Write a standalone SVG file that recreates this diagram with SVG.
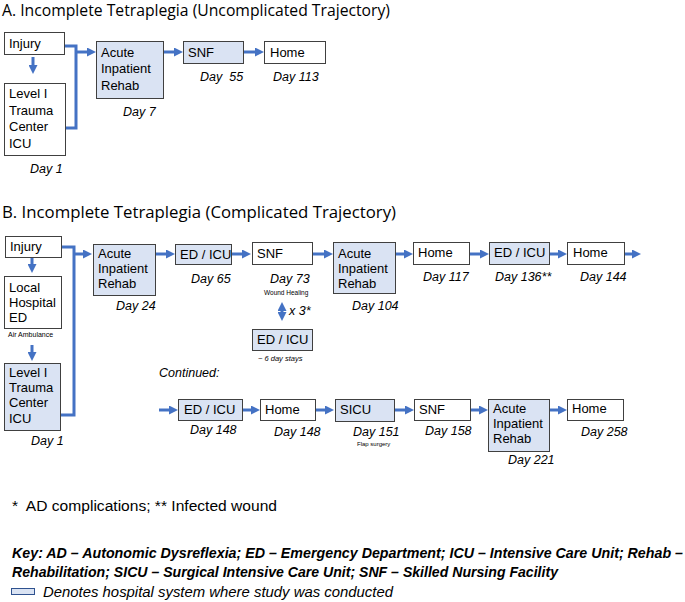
<svg xmlns="http://www.w3.org/2000/svg" width="685" height="602" viewBox="0 0 685 602">
<style>
text{font-family:"Liberation Sans",Arial,sans-serif;fill:#000}
.t{font-size:16px;font-family:"Open Sans","Liberation Sans",sans-serif}
.n{font-size:13px}
.d{font-size:12.5px;font-style:italic}
.s{font-size:7px}
.si{font-size:7.5px;font-style:italic}
.w{fill:#fff;stroke:#404040;stroke-width:1}
.b{fill:#dae3f3;stroke:#404040;stroke-width:1}
.c{fill:none;stroke:#4472c4;stroke-width:3}
.a{fill:none;stroke:#4472c4;stroke-width:3;marker-end:url(#ah)}
.aa{fill:none;stroke:#4472c4;stroke-width:3;marker-end:url(#ah);marker-start:url(#ah)}
.k{font-size:14px;font-weight:bold;font-style:italic}
</style>
<defs>
<marker id="ah" viewBox="0 0 9 9" refX="3" refY="4.5" markerWidth="9" markerHeight="9" markerUnits="userSpaceOnUse" orient="auto-start-reverse">
<path d="M0,0 L9,4.5 L0,9 z" fill="#4472c4"/>
</marker>
</defs>

<text class="t" x="2" y="16" textLength="388" lengthAdjust="spacingAndGlyphs">A. Incomplete Tetraplegia (Uncomplicated Trajectory)</text>
<text class="t" x="2" y="218" textLength="394" lengthAdjust="spacingAndGlyphs">B. Incomplete Tetraplegia (Complicated Trajectory)</text>

<g id="connectors">
<!-- A -->
<path class="a" d="M33,57 V68"/>
<path class="c" d="M65,46 H76 V128 H65"/>
<path class="a" d="M76,52 H90"/>
<path class="a" d="M163,52 H177"/>
<path class="a" d="M243,52 H258"/>
<!-- B -->
<path class="a" d="M32,258 V267"/>
<path class="a" d="M32,345 V355"/>
<path class="c" d="M62,247 H74 V415 H61"/>
<path class="a" d="M74,254 H86"/>
<path class="a" d="M155,254 H169"/>
<path class="a" d="M231,254 H245"/>
<path class="a" d="M312,254 H327"/>
<path class="a" d="M395,254 H407"/>
<path class="a" d="M469,254 H483"/>
<path class="a" d="M549,254 H561"/>
<path class="a" d="M624,254 H635"/>
<path class="aa" d="M282,308 V315"/>
<!-- continued -->
<path class="a" d="M159,410 H172"/>
<path class="a" d="M242,410 H254"/>
<path class="a" d="M315,410 H328"/>
<path class="a" d="M394,410 H408"/>
<path class="a" d="M470,410 H482"/>
<path class="a" d="M549,410 H561"/>
</g>

<!-- Section A nodes -->
<g id="a-injury"><rect class="w" x="4.5" y="32.5" width="60" height="22"/><text class="n" x="9" y="48">Injury</text></g>
<g id="a-trauma"><rect class="w" x="4.5" y="83.5" width="61" height="72"/>
<text class="n" x="9" y="98">Level I</text><text class="n" x="9" y="115">Trauma</text><text class="n" x="9" y="131">Center</text><text class="n" x="9" y="148">ICU</text></g>
<text class="d" x="30" y="173">Day 1</text>
<g id="a-rehab"><rect class="b" x="96.5" y="41.5" width="67" height="57"/>
<text class="n" x="101" y="57">Acute</text><text class="n" x="101" y="73">Inpatient</text><text class="n" x="101" y="90">Rehab</text></g>
<text class="d" x="123" y="116">Day 7</text>
<g id="a-snf"><rect class="b" x="183.5" y="41.5" width="60" height="22"/><text class="n" x="188" y="57">SNF</text></g>
<text class="d" x="200" y="81" xml:space="preserve">Day  55</text>
<g id="a-home"><rect class="w" x="264.5" y="41.5" width="61" height="22"/><text class="n" x="270" y="57">Home</text></g>
<text class="d" x="273" y="81">Day 113</text>

<!-- Section B nodes -->
<g id="b-injury"><rect class="w" x="5.5" y="236.5" width="56" height="21"/><text class="n" x="10" y="251">Injury</text></g>
<g id="b-local"><rect class="w" x="4.5" y="276.5" width="57" height="52"/>
<text class="n" x="9" y="292">Local</text><text class="n" x="9" y="307">Hospital</text><text class="n" x="9" y="322">ED</text></g>
<text class="s" x="8" y="337">Air Ambulance</text>
<g id="b-trauma"><rect class="b" x="4.5" y="363.5" width="56" height="67"/>
<text class="n" x="9" y="377">Level I</text><text class="n" x="9" y="392">Trauma</text><text class="n" x="9" y="407">Center</text><text class="n" x="9" y="423">ICU</text></g>
<text class="d" x="31" y="445">Day 1</text>
<g id="b-rehab1"><rect class="b" x="93.5" y="244.5" width="62" height="51"/>
<text class="n" x="98" y="258">Acute</text><text class="n" x="98" y="273">Inpatient</text><text class="n" x="98" y="288">Rehab</text></g>
<text class="d" x="116" y="310">Day 24</text>
<g id="b-edicu1"><rect class="b" x="175.5" y="244.5" width="56" height="20"/><text class="n" x="180" y="259">ED / ICU</text></g>
<text class="d" x="191" y="283">Day 65</text>
<g id="b-snf1"><rect class="w" x="252.5" y="242.5" width="60" height="22"/><text class="n" x="257" y="258">SNF</text></g>
<text class="d" x="270" y="283">Day 73</text>
<text class="s" x="264" y="295" style="font-size:6.5px">Wound Healing</text>
<text class="d" x="289" y="315">x 3*</text>
<g id="b-edicu-loop"><rect class="b" x="252.5" y="329.5" width="60" height="21"/><text class="n" x="257" y="344">ED / ICU</text></g>
<text class="si" x="258" y="361">~ 6 day stays</text>
<text class="d" x="159" y="377">Continued:</text>
<g id="b-rehab2"><rect class="b" x="333.5" y="242.5" width="62" height="51"/>
<text class="n" x="338" y="258">Acute</text><text class="n" x="338" y="273">Inpatient</text><text class="n" x="338" y="288">Rehab</text></g>
<text class="d" x="352" y="310">Day 104</text>
<g id="b-home1"><rect class="w" x="413.5" y="242.5" width="56" height="22"/><text class="n" x="418" y="257">Home</text></g>
<text class="d" x="423" y="281">Day 117</text>
<g id="b-edicu2"><rect class="b" x="489.5" y="242.5" width="60" height="22"/><text class="n" x="494" y="257">ED / ICU</text></g>
<text class="d" x="495" y="281">Day 136**</text>
<g id="b-home2"><rect class="w" x="567.5" y="242.5" width="57" height="22"/><text class="n" x="573" y="257">Home</text></g>
<text class="d" x="580" y="281">Day 144</text>

<!-- Continued row -->
<g id="c-edicu"><rect class="b" x="178.5" y="399.5" width="64" height="21"/><text class="n" x="184" y="414">ED / ICU</text></g>
<text class="d" x="190" y="434">Day 148</text>
<g id="c-home1"><rect class="w" x="260.5" y="399.5" width="55" height="21"/><text class="n" x="265" y="414">Home</text></g>
<text class="d" x="274" y="436">Day 148</text>
<g id="c-sicu"><rect class="b" x="335.5" y="399.5" width="59" height="22"/><text class="n" x="340" y="414">SICU</text></g>
<text class="d" x="353" y="436">Day 151</text>
<text class="s" x="357" y="446" style="font-size:6px">Flap surgery</text>
<g id="c-snf"><rect class="w" x="414.5" y="399.5" width="56" height="21"/><text class="n" x="419" y="414">SNF</text></g>
<text class="d" x="425" y="435">Day 158</text>
<g id="c-rehab"><rect class="b" x="488.5" y="399.5" width="61" height="52"/>
<text class="n" x="493" y="413">Acute</text><text class="n" x="493" y="428">Inpatient</text><text class="n" x="493" y="443">Rehab</text></g>
<text class="d" x="508" y="464">Day 221</text>
<g id="c-home2"><rect class="w" x="567.5" y="399.5" width="56" height="21"/><text class="n" x="572" y="413">Home</text></g>
<text class="d" x="581" y="436">Day 258</text>

<!-- Footer -->
<text x="12" y="511" style="font-size:14px" textLength="265" lengthAdjust="spacingAndGlyphs" xml:space="preserve">*  AD complications; ** Infected wound</text>
<text class="k" x="12" y="558" textLength="671" lengthAdjust="spacingAndGlyphs">Key: AD – Autonomic Dysreflexia; ED – Emergency Department; ICU – Intensive Care Unit; Rehab –</text>
<text class="k" x="12" y="577" textLength="546" lengthAdjust="spacingAndGlyphs">Rehabilitation; SICU – Surgical Intensive Care Unit; SNF – Skilled Nursing Facility</text>
<rect class="b" x="11.5" y="588.5" width="23" height="6" style="stroke:#2f528f"/>
<text x="43" y="597" style="font-size:14px;font-style:italic" textLength="350" lengthAdjust="spacingAndGlyphs">Denotes hospital system where study was conducted</text>
</svg>
